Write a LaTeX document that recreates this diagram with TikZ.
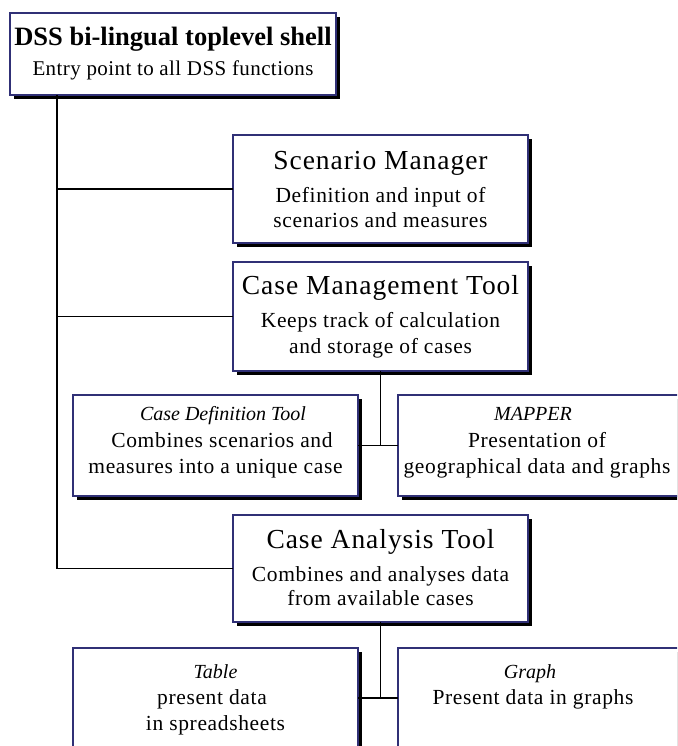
\documentclass[tikz,border=0pt]{standalone}
\usepackage{fontspec}
\setmainfont{Liberation Serif}
\newfontfamily\serifplain{Liberation Serif}
\newfontfamily\rmwide[LetterSpace=3]{Liberation Serif}
\newfontfamily\ttlwide[LetterSpace=3.5]{Liberation Serif}
\newfontfamily\topsubf[LetterSpace=2]{Liberation Serif}
\definecolor{navy}{RGB}{48,48,118}
\tikzset{
  box/.style={draw=navy, line width=1.2pt, fill=white, rectangle, inner sep=0pt, outer sep=0pt},
  conn/.style={draw=black, line width=1.2pt},
  ttl/.style={font=\ttlwide\fontsize{27.5}{30}\selectfont, inner sep=0pt, anchor=base},
  sub/.style={font=\rmwide\fontsize{21.5}{24}\selectfont, inner sep=0pt, anchor=base},
  subit/.style={font=\serifplain\itshape\fontsize{20}{24}\selectfont, inner sep=0pt, anchor=base},
  toptl/.style={font=\serifplain\bfseries\fontsize{26.5}{29}\selectfont, inner sep=0pt, anchor=base},
  topsub/.style={font=\topsubf\fontsize{21}{24}\selectfont, inner sep=0pt, anchor=base},
}
\newcommand\dbox[5]{%
  \fill[black] ({#2+4},{#3+4}) rectangle ({#4+4},{#5+4});
  \node[box, minimum width={#4-#2}, minimum height={#5-#3}] (#1) at ({(#2+#4)/2},{(#3+#5)/2}) {};
}
\begin{document}
\begin{tikzpicture}[x=1pt,y=-1pt]
\useasboundingbox (0,0) rectangle (677,746);
\clip (0,0) rectangle (677,746);
\fill[white] (0,0) rectangle (677,746);

% boxes
\dbox{top}{10}{13}{336}{95}
\dbox{scen}{233}{135}{528}{243}
\dbox{cmt}{233}{262}{528}{371}
\dbox{cdef}{73}{395}{358}{496}
\dbox{mapper}{398}{395}{690}{496}
\dbox{cat}{233}{515}{528}{622}
\dbox{table}{73}{648}{358}{770}
\dbox{graph}{398}{648}{690}{770}

% connectors
\draw[conn] (top.south west) ++(47,0) coordinate (trunk) |- (cat.west);
\draw[conn] (trunk |- scen.west) -- (scen.west);
\draw[conn] (trunk |- cmt.west) -- (cmt.west);
\draw[conn] (cmt.south) -- (cmt.south |- cdef.east);
\draw[conn] (cdef.east) -- (mapper.west);
\draw[conn] (cat.south) -- ++(0,76) coordinate (j2);
\draw[conn] (j2 -| table.east) -- (j2 -| graph.west);

% texts
\node[toptl] (top-t) at (173,46) {DSS bi-lingual toplevel shell};
\node[topsub] (top-a) at (173,76) {Entry point to all DSS functions};

\node[ttl] (scen-t) at (380.5,169) {Scenario Manager};
\node[sub] (scen-a) at (380.5,202) {Definition and input of};
\node[sub] (scen-b) at (380.5,227) {scenarios and measures};

\node[ttl] (cmt-t) at (380.5,294) {Case Management Tool};
\node[sub] (cmt-a) at (380.5,327) {Keeps track of calculation};
\node[sub] (cmt-b) at (380.5,353) {and storage of cases};

\node[subit] (cdef-t) at (223,420) {Case Definition Tool};
\node[sub] (cdef-a) at (222,447) {Combines scenarios and};
\node[sub] (cdef-b) at (215.5,473) {measures into a unique case};

\node[subit] (map-t) at (533,420) {MAPPER};
\node[sub] (map-a) at (537,447) {Presentation of};
\node[sub] (map-b) at (537,473) {geographical data and graphs};

\node[ttl] (cat-t) at (380.5,548) {Case Analysis Tool};
\node[sub] (cat-a) at (380.5,581) {Combines and analyses data};
\node[sub] (cat-b) at (380.5,605) {from available cases};

\node[subit] (tab-t) at (215.5,678) {Table};
\node[sub] (tab-a) at (212,704) {present data};
\node[sub] (tab-b) at (215.5,730) {in spreadsheets};

\node[subit] (gr-t) at (530,678) {Graph};
\node[sub] (gr-a) at (533,704) {Present data in graphs};
\end{tikzpicture}
\end{document}
